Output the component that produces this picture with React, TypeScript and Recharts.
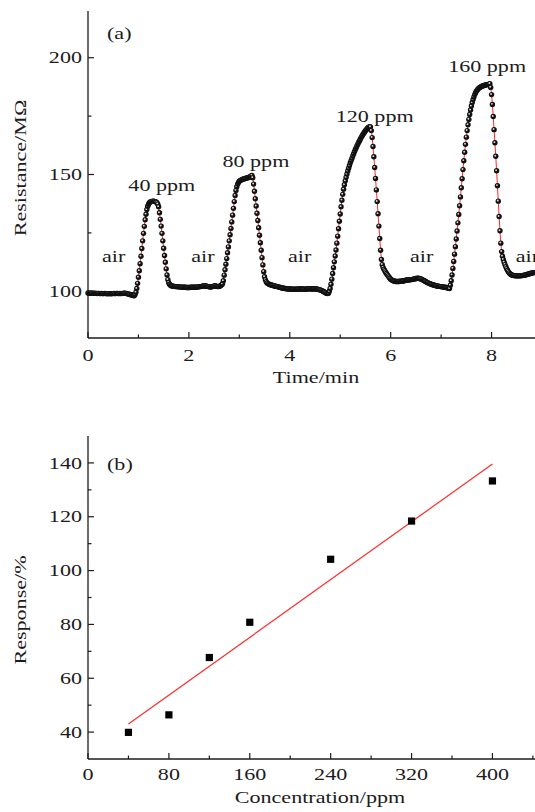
import React from 'react';
import { LineChart, Line, XAxis, YAxis, ReferenceDot, ScatterChart, Scatter } from 'recharts';

// ---------- Panel (a): sensor resistance vs time ----------
const SAMPLE_INTERVAL_MIN = 1 / 60; // one reading per second

const resistance = [
  // 0-54 s, air baseline
  99.3, 99.2, 99.2, 99.1, 99.2, 99.2, 99.1, 99.1, 99.2, 99.1,
  99.1, 99.0, 99.1, 99.1, 99.0, 99.0, 99.1, 99.0, 99.0, 99.0,
  99.1, 99.0, 99.0, 98.9, 99.0, 99.0, 99.0, 98.9, 99.0, 99.0,
  99.0, 99.1, 99.0, 99.0, 99.1, 99.1, 99.0, 99.0, 99.1, 99.0,
  99.0, 99.1, 99.1, 99.2, 99.2, 99.1, 99.0, 98.9, 98.8, 98.7,
  98.6, 98.5, 98.4, 98.3, 98.2,
  98.1,
  // 40 ppm
  98.6, 99.6, 101.2, 103.4, 106.0, 108.8, 111.8, 115.0, 118.3, 121.6,
  124.8, 127.8, 130.6, 133.0, 135.0, 136.4, 137.3, 137.9, 138.2, 138.4,
  138.5, 138.6, 138.6, 138.5, 138.4, 138.2, 137.9, 137.3,
  136.2, 133.6, 130.8, 127.9, 124.8, 121.6, 118.4, 115.3, 112.4, 109.6, 107.0, 105.0, 103.7, 103.0,
  102.6, 102.4, 102.3, 102.2, 102.1, 102.1, 102.0, 102.0,
  // air
  102.0, 101.9, 101.9, 101.9, 101.8, 101.8, 101.8, 101.7, 101.7, 101.7,
  101.7, 101.6, 101.6, 101.6, 101.6, 101.6, 101.7, 101.7, 101.7, 101.8,
  101.7, 101.7, 101.8, 101.8, 101.8, 101.9, 101.9, 102.0, 102.0, 102.1,
  102.2, 102.3, 102.3, 102.4, 102.3, 102.2, 102.1, 102.0, 101.9, 101.9,
  101.8, 101.9, 102.0, 102.1, 102.3, 102.4, 102.3, 102.1, 102.0, 102.0,
  102.1, 102.3, 102.5, 102.8, 103.2,
  // 80 ppm
  104.5, 106.9, 109.2, 111.6, 114.0, 116.5, 119.0, 121.6, 124.2, 126.9,
  129.7, 132.6, 135.5, 138.4, 141.0, 143.2, 144.8, 145.9, 146.6, 147.1,
  147.4, 147.6, 147.8, 148.0, 148.1, 148.2, 148.3, 148.4, 148.5, 148.6,
  148.7, 148.9, 149.1, 149.4, 149.6,
  148.6, 145.9, 142.8, 139.6, 136.5, 133.4, 130.3, 127.2, 124.0, 120.8, 117.6, 114.4, 111.3, 108.4,
  106.2, 104.9, 104.1, 103.6, 103.3, 103.1, 102.9, 102.8,
  // air
  102.7, 102.6, 102.5, 102.4, 102.3, 102.2, 102.1, 102.0, 101.9, 101.8,
  101.7, 101.6, 101.5, 101.4, 101.3, 101.3, 101.2, 101.2, 101.1, 101.1,
  101.0, 101.0, 101.0, 101.0, 100.9, 100.9, 100.9, 100.9, 100.9, 100.9,
  100.9, 100.9, 101.0, 101.0, 101.0, 101.0, 101.0, 101.0, 101.0, 100.9,
  100.9, 100.9, 101.0, 101.0, 101.1, 101.1, 101.1, 101.1, 101.0, 101.0,
  101.0, 101.1, 101.1, 101.0, 101.0, 100.9, 100.8, 100.7, 100.6, 100.5,
  100.3, 100.1, 99.9, 99.7, 99.5, 99.3, 99.1, 99.0,
  // 120 ppm
  99.2, 100.0, 101.2, 103.0, 105.2, 107.6, 110.1, 112.6, 115.1, 117.7,
  120.6, 123.6, 126.8, 130.0, 133.1, 136.2, 139.0, 141.5, 143.7, 145.6,
  147.3, 148.8, 150.2, 151.5, 152.7, 153.9, 155.0, 156.0, 157.0, 158.0,
  158.9, 159.8, 160.7, 161.5, 162.3, 163.1, 163.8, 164.5, 165.2, 165.9,
  166.5, 167.1, 167.7, 168.2, 168.7, 169.2, 169.6, 170.0, 170.3, 170.5,
  170.4, 168.8, 165.8, 162.0, 157.6, 153.0, 148.3, 143.4, 138.4, 133.2, 127.9, 122.6, 117.6, 113.6,
  111.4, 110.2, 109.4, 108.8, 108.2, 107.6, 107.1, 106.6, 106.1, 105.6,
  // air
  105.2, 104.9, 104.7, 104.5, 104.4, 104.3, 104.2, 104.2, 104.2, 104.2,
  104.2, 104.3, 104.3, 104.3, 104.4, 104.4, 104.5, 104.6, 104.7, 104.8,
  104.8, 104.8, 104.9, 104.9, 105.0, 105.0, 105.1, 105.2, 105.3, 105.4,
  105.5, 105.5, 105.6, 105.6, 105.5, 105.4, 105.3, 105.1, 104.9, 104.7,
  104.5, 104.3, 104.1, 103.9, 103.7, 103.5, 103.4, 103.2, 103.0, 102.9,
  102.8, 102.7, 102.6, 102.5, 102.4, 102.3, 102.2, 102.2, 102.1, 102.0,
  102.0, 101.9, 101.9, 101.8, 101.7, 101.7, 101.6, 101.5, 101.4, 101.3,
  101.2,
  // 160 ppm
  102.6, 104.5, 107.0, 109.8, 112.8, 115.9, 119.1, 122.4, 125.8, 129.3,
  132.9, 136.6, 140.4, 144.3, 148.2, 152.1, 155.9, 159.5, 162.9, 166.0,
  168.8, 171.3, 173.6, 175.7, 177.6, 179.3, 180.8, 182.1, 183.2, 184.2,
  185.0, 185.7, 186.2, 186.6, 187.0, 187.3, 187.5, 187.7, 187.9, 188.0,
  188.1, 188.2, 188.3, 188.4, 188.5, 188.6, 188.7, 188.9,
  187.3, 184.2, 180.0, 174.8, 169.2, 163.6, 157.8, 151.6, 145.2, 138.6, 132.0, 125.9, 120.6, 117.0,
  115.0, 113.6, 112.4, 111.4, 110.5, 109.7, 109.0, 108.4, 107.9, 107.5,
  // air
  107.2, 107.0, 106.9, 106.8, 106.7, 106.7, 106.6, 106.6, 106.6, 106.6,
  106.6, 106.6, 106.7, 106.7, 106.8, 106.8, 106.9, 107.0, 107.1, 107.2,
  107.3, 107.4, 107.5, 107.6, 107.7, 107.8, 107.9, 108.0, 108.0, 108.1, 108.1, 108.1, 108.1,
];

const timeTicks = [0, 1, 2, 3, 4, 5, 6, 7, 8, 9];
const timeMajorTicks = [0, 2, 4, 6, 8];
const resistanceTicks = [100, 125, 150, 175, 200];
const resistanceMajorTicks = [100, 150, 200];
const gasLabels = ['40 ppm', '80 ppm', '120 ppm', '160 ppm'];
const airLabels = ['air', 'air', 'air', 'air', 'air'];

// ---------- Panel (b): response vs concentration ----------
const concentrations = [40, 80, 120, 160, 240, 320, 400];
const responses = [39.9, 46.4, 67.7, 80.8, 104.2, 118.4, 133.3];
const fitConcentrations = [40, 400];
const fitResponses = [43.0, 139.6];
const concTicks = [0, 40, 80, 120, 160, 200, 240, 280, 320, 360, 400, 440];
const concMajorTicks = [0, 80, 160, 240, 320, 400];
const respTicks = [40, 50, 60, 70, 80, 90, 100, 110, 120, 130, 140];
const respMajorTicks = [40, 60, 80, 100, 120, 140];

// ---------- layout (text anchors in data coordinates) ----------
const gasLabelAnchors = [[0.8, 142.9], [2.665, 153.4], [4.91, 172.6], [7.14, 193.9]];
const airLabelAnchors = [[0.277, 112.6], [2.046, 112.6], [3.966, 112.6], [6.382, 112.6], [8.481, 112.6]];

const sensorData = resistance.map((r, i) => ({ t: i * SAMPLE_INTERVAL_MIN, r }));
const measuredPoints = concentrations.map((c, i) => ({ x: c, y: responses[i] }));
const fitPoints = fitConcentrations.map((c, i) => ({ x: c, y: fitResponses[i] }));

const FONT = '"Liberation Serif", "Times New Roman", serif';
const INK = '#1c1c1c';
const RED = '#ff2a2a';
const SX = 1.3;
const FS = 17;
const MAJOR = 6;
const MINOR = 3.5;

function SText({ x, y, anchor = 'start', rotate = 0, children }: any) {
  return (
    <text
      transform={`translate(${x},${y}) rotate(${rotate}) scale(${SX},1)`}
      textAnchor={anchor}
      fontFamily={FONT}
      fontSize={FS}
      fill={INK}
    >
      {children}
    </text>
  );
}

const makeBottomTick = (majors: number[], labelDy: number) => (p: any) => {
  const major = majors.includes(p.payload.value);
  return (
    <g key={`bt${p.payload.value}`}>
      <line x1={p.x} x2={p.x} y1={p.y} y2={p.y - (major ? MAJOR : MINOR)} stroke={INK} strokeWidth={1.2} />
      {major && <SText x={p.x} y={p.y + labelDy} anchor="middle">{p.payload.value}</SText>}
    </g>
  );
};

const makeTopTick = (majors: number[]) => (p: any) => {
  const major = majors.includes(p.payload.value);
  return (
    <g key={`tt${p.payload.value}`}>
      <line x1={p.x} x2={p.x} y1={p.y} y2={p.y + (major ? MAJOR : MINOR)} stroke={INK} strokeWidth={1.2} />
    </g>
  );
};

const makeLeftTick = (majors: number[]) => (p: any) => {
  const major = majors.includes(p.payload.value);
  return (
    <g key={`lt${p.payload.value}`}>
      <line x1={p.x} x2={p.x + (major ? MAJOR : MINOR)} y1={p.y} y2={p.y} stroke={INK} strokeWidth={1.2} />
      {major && <SText x={p.x - 6} y={p.y + 5.7} anchor="end">{p.payload.value}</SText>}
    </g>
  );
};

const renderSensorDot = (p: any) => (
  <g key={`d${p.index}`}>
    <circle cx={p.cx} cy={p.cy} r={2.7} fill="#111" />
    <circle cx={p.cx - 0.5} cy={p.cy - 0.6} r={0.95} fill="#d8d8d8" />
  </g>
);

const renderSquare = (p: any) => (
  <rect x={p.cx - 3.6} y={p.cy - 3.6} width={7.2} height={7.2} fill="#000" />
);

const renderNothing = () => <g />;

const axisLineStyle = { stroke: INK, strokeWidth: 1.3 };

export default function App() {
  return (
    <div style={{ position: 'absolute', left: 0, top: 0, width: 535, height: 812, overflow: 'hidden', background: '#fff' }}>
      <div style={{ position: 'absolute', left: 0, top: 0 }}>
        <LineChart width={560} height={400} data={sensorData} margin={{ top: 11, right: 18, bottom: 0, left: 0 }}>
          <XAxis
            xAxisId="b"
            type="number"
            dataKey="t"
            domain={[0, 9]}
            ticks={timeTicks}
            interval={0}
            tickSize={0}
            tickMargin={0}
            tickLine={false}
            axisLine={axisLineStyle}
            tick={makeBottomTick(timeMajorTicks, 22.5)}
            height={62}
          />
          <XAxis
            xAxisId="t"
            orientation="top"
            type="number"
            dataKey="t"
            domain={[0, 9]}
            ticks={timeTicks}
            interval={0}
            tickSize={0}
            tickMargin={0}
            tickLine={false}
            axisLine={axisLineStyle}
            tick={makeTopTick(timeMajorTicks)}
            height={0}
          />
          <YAxis
            yAxisId="l"
            type="number"
            domain={[80, 220]}
            ticks={resistanceTicks}
            interval={0}
            tickSize={0}
            tickMargin={0}
            tickLine={false}
            axisLine={axisLineStyle}
            tick={makeLeftTick(resistanceMajorTicks)}
            width={88}
          />
          <Line
            xAxisId="b"
            yAxisId="l"
            type="linear"
            dataKey="r"
            stroke={RED}
            strokeWidth={1}
            dot={renderSensorDot}
            isAnimationActive={false}
          />
          {gasLabels.map((txt, i) => (
            <ReferenceDot
              key={`g${i}`}
              xAxisId="b"
              yAxisId="l"
              x={gasLabelAnchors[i][0]}
              y={gasLabelAnchors[i][1]}
              r={0}
              ifOverflow="visible"
              shape={(p: any) => <SText x={p.cx} y={p.cy}>{txt}</SText>}
            />
          ))}
          {airLabels.map((txt, i) => (
            <ReferenceDot
              key={`a${i}`}
              xAxisId="b"
              yAxisId="l"
              x={airLabelAnchors[i][0]}
              y={airLabelAnchors[i][1]}
              r={0}
              ifOverflow="visible"
              shape={(p: any) => <SText x={p.cx} y={p.cy}>{txt}</SText>}
            />
          ))}
        </LineChart>
      </div>

      <div style={{ position: 'absolute', left: 0, top: 420 }}>
        <ScatterChart width={560} height={392} margin={{ top: 16, right: 17, bottom: 0, left: 0 }}>
          <XAxis
            xAxisId="b"
            type="number"
            dataKey="x"
            domain={[0, 450]}
            ticks={concTicks}
            interval={0}
            tickSize={0}
            tickMargin={0}
            tickLine={false}
            axisLine={axisLineStyle}
            tick={makeBottomTick(concMajorTicks, 21)}
            height={53}
          />
          <XAxis
            xAxisId="t"
            orientation="top"
            type="number"
            dataKey="x"
            domain={[0, 450]}
            ticks={concTicks}
            interval={0}
            tickSize={0}
            tickMargin={0}
            tickLine={false}
            axisLine={axisLineStyle}
            tick={makeTopTick(concMajorTicks)}
            height={0}
          />
          <YAxis
            yAxisId="l"
            type="number"
            dataKey="y"
            domain={[30, 150]}
            ticks={respTicks}
            interval={0}
            tickSize={0}
            tickMargin={0}
            tickLine={false}
            axisLine={axisLineStyle}
            tick={makeLeftTick(respMajorTicks)}
            width={88}
          />
          <Scatter
            xAxisId="b"
            yAxisId="l"
            data={fitPoints}
            line={{ stroke: RED, strokeWidth: 1.2 }}
            shape={renderNothing}
            isAnimationActive={false}
          />
          <Scatter
            xAxisId="b"
            yAxisId="l"
            data={measuredPoints}
            shape={renderSquare}
            isAnimationActive={false}
          />
        </ScatterChart>
      </div>

      <svg width={535} height={812} style={{ position: 'absolute', left: 0, top: 0, pointerEvents: 'none' }}>
        <SText x={107} y={38.5}>(a)</SText>
        <SText x={26} y={168} rotate={-90} anchor="middle">Resistance/MΩ</SText>
        <SText x={316} y={383} anchor="middle">Time/min</SText>
        <SText x={107} y={470}>(b)</SText>
        <SText x={26} y={610} rotate={-90} anchor="middle">Response/%</SText>
        <SText x={320} y={803} anchor="middle">Concentration/ppm</SText>
      </svg>
    </div>
  );
}
